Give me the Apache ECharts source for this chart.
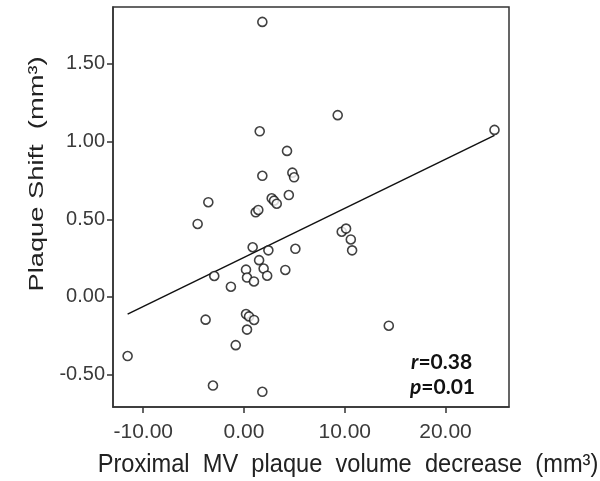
<!DOCTYPE html>
<html>
<head>
<meta charset="utf-8">
<script src="https://cdn.jsdelivr.net/npm/echarts@6/dist/echarts.min.js"></script>
<style>html,body{margin:0;padding:0;background:#fff;}#c{width:600px;height:481px;}</style>
</head>
<body>
<div id="c"></div>
<script>
// Proximal MV plaque volume decrease (mm3)
const xVals = [1.82, 9.3, 24.86, 1.56, 4.27, 1.82, 4.8, 4.97, 4.45, -3.54,
  2.75, 2.98, 3.25, 1.16, 1.42, -4.6, 9.7, 10.13, 10.6, 10.73,
  0.86, 2.42, 5.1, 1.5, 0.2, 1.95, 4.1, -2.95, 0.3, 2.3,
  0.99, -1.3, -3.81, 0.2, 0.5, 1.0, 0.3, -0.82, 14.37, -11.55,
  -3.08, 1.82];
// Plaque shift (mm3)
const yVals = [1.77, 1.17, 1.075, 1.066, 0.94, 0.78, 0.80, 0.77, 0.656, 0.61,
  0.635, 0.62, 0.60, 0.545, 0.56, 0.47, 0.42, 0.44, 0.37, 0.30,
  0.32, 0.30, 0.31, 0.237, 0.176, 0.183, 0.174, 0.135, 0.125, 0.137,
  0.10, 0.066, -0.146, -0.11, -0.125, -0.148, -0.21, -0.31, -0.185, -0.38,
  -0.57, -0.61];
// fit line endpoints
const lineX = [-11.55, 24.86];
const lineY = [-0.11, 1.04];
const xTicks = [-10, 0, 10, 20];
const yTicks = [-0.5, 0, 0.5, 1.0, 1.5];
const xName = 'Proximal  MV  plaque  volume  decrease  (mm³)';
const yName = 'Plaque Shift  (mm³)';
const statR = '0.38';
const statP = '0.01';

const chart = echarts.init(document.getElementById('c'), null, {renderer: 'canvas'});
const font = 'Liberation Sans, Arial, sans-serif';
const pts = xVals.map((x, i) => [x, yVals[i]]);
const linePts = lineX.map((x, i) => [x, lineY[i]]);
const richStat = {
  i: {fontFamily: 'Lato', fontWeight: 'bold', fontStyle: 'italic', fontSize: 21, fill: '#111'},
  n: {fontFamily: 'Lato', fontWeight: 'bold', fontSize: 21, fill: '#111'}
};

chart.setOption({
  animation: false,
  backgroundColor: '#fff',
  grid: {left: 113, right: 91, top: 7, bottom: 74, show: true, borderColor: '#333', borderWidth: 1.5, backgroundColor: 'transparent'},
  xAxis: {
    type: 'value', min: -13, max: 26.3,
    axisLine: {show: true, onZero: false, lineStyle: {color: '#333', width: 1.5}},
    axisTick: {show: true, length: 6, inside: false, customValues: xTicks, lineStyle: {color: '#333', width: 1.5}},
    axisLabel: {customValues: xTicks, formatter: v => v.toFixed(2), color: '#3a3a3a', fontFamily: font, fontSize: 21, margin: 15},
    splitLine: {show: false}
  },
  yAxis: {
    type: 'value', min: -0.708, max: 1.866,
    axisLine: {show: true, onZero: false, lineStyle: {color: '#333', width: 1.5}},
    axisTick: {show: true, length: 6, inside: false, customValues: yTicks, lineStyle: {color: '#333', width: 1.5}},
    axisLabel: {customValues: yTicks, formatter: v => v.toFixed(2), color: '#3a3a3a', fontFamily: font, fontSize: 20, margin: 8},
    splitLine: {show: false}
  },
  graphic: [
    {type: 'text', x: 348, y: 465, scaleX: 1.075, scaleY: 1.15, style: {text: xName, fontFamily: font, fontSize: 22, fill: '#222', textAlign: 'center', textVerticalAlign: 'middle'}},
    {type: 'text', x: 37, y: 174, rotation: Math.PI / 2, scaleX: 1.3, style: {text: yName, fontFamily: font, fontSize: 21, fill: '#222', textAlign: 'center', textVerticalAlign: 'middle'}},
    {type: 'text', x: 411, y: 362, style: {text: '{i|r}{n|=' + statR + '}', textVerticalAlign: 'middle', rich: richStat}},
    {type: 'text', x: 410, y: 387, style: {text: '{i|p}{n|=' + statP + '}', textVerticalAlign: 'middle', rich: richStat}}
  ],
  series: [
    {type: 'line', data: linePts, symbol: 'none', lineStyle: {color: '#111', width: 1.5}, z: 2, silent: true},
    {type: 'scatter', data: pts, symbol: 'circle', symbolSize: 9, itemStyle: {color: '#fff', borderColor: '#111', borderWidth: 1.6}, z: 3}
  ]
});
</script>
</body>
</html>
